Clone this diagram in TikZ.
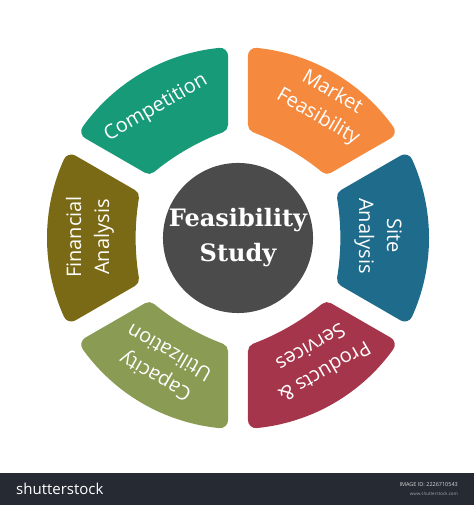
\documentclass[tikz,border=0pt]{standalone}
\usepackage{fontspec}
\setmainfont{Open Sans}
\newfontfamily\ctrfont{DejaVu Serif}
\definecolor{cFin}{HTML}{7B6A15}
\definecolor{cComp}{HTML}{179A78}
\definecolor{cMkt}{HTML}{F58A3F}
\definecolor{cSite}{HTML}{1E6B8C}
\definecolor{cProd}{HTML}{A5354A}
\definecolor{cCap}{HTML}{8A9B54}
\definecolor{cHub}{HTML}{4B4B4B}
\definecolor{cBar}{HTML}{252A33}
\tikzset{
  pics/seg/.style={code={
    \filldraw[line width=16pt,line join=round,color=#1]
      (166.7,-75.5) arc[start angle=-24.37,end angle=24.37,radius=183pt]
      -- (107,41) .. controls (111.5,14) and (111.5,-14) .. (107,-41) -- cycle;
  }},
  lbl/.style={text=white,font=\fontsize{20}{28}\selectfont,align=center,inner sep=0pt},
  tiny/.style={anchor=east,inner sep=0pt},
}
\begin{document}
\begin{tikzpicture}[x=1pt,y=1pt]
\useasboundingbox (0,0) rectangle (474,505);
\fill[white] (0,0) rectangle (474,505);
\coordinate (c) at (238,267);
% segments
\pic[rotate=180] at (c) {seg=cFin};
\pic[rotate=120] at (c) {seg=cComp};
\pic[rotate=60]  at (c) {seg=cMkt};
\pic[rotate=0]   at (c) {seg=cSite};
\pic[rotate=-60] at (c) {seg=cProd};
\pic[rotate=-120] at (c) {seg=cCap};
% hub
\node[circle,fill=cHub,minimum size=148pt,inner sep=0pt,text=white,align=center,
      font=\ctrfont\bfseries\fontsize{24}{35}\selectfont] (hub) at (c) {Feasibility\\Study};
% labels
\node[lbl,rotate=30]  (lc) at (156,397) {Competition};
\node[lbl,rotate=-30] (lm) at (325,400) {Market\\Feasibility};
\node[lbl,rotate=-90] (ls) at (378,269) {Site\\Analysis};
\node[lbl,rotate=90]  (lf) at (90,268) {Financial\\Analysis};
\node[lbl,rotate=150] (lu) at (162,140) {Capacity\\Utilization};
\node[lbl,rotate=-150] (lp) at (318,145) {Products \&\\Services};
% bottom bar
\fill[cBar] (0,0) rectangle (474,32);
\node[anchor=west,inner sep=0pt,text=white,font=\fontsize{15}{15}\selectfont] (brand) at (16,16) {shutterstock};
\node[tiny,text=white!85!black,font=\fontsize{5.5}{6}\selectfont] (imgid) at (458,20) {IMAGE ID: 2226710543};
\node[tiny,text=white!65!black,font=\fontsize{4.5}{5}\selectfont] (www) at (458,11) {www.shutterstock.com};
\end{tikzpicture}
\end{document}
